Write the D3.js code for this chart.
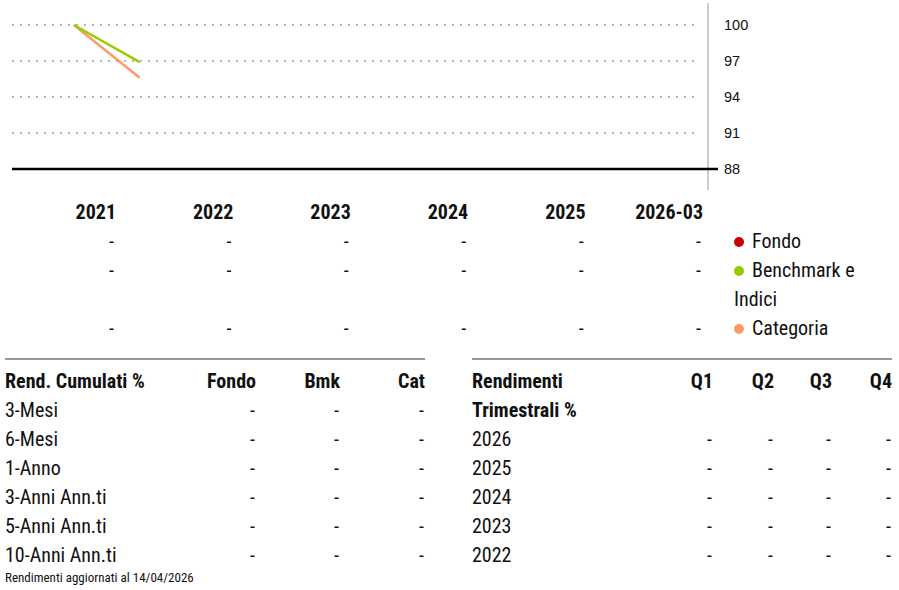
<!DOCTYPE html>
<html>
<head>
<meta charset="utf-8">
<script src="https://cdn.jsdelivr.net/npm/d3@7"></script>
<style>
  body { margin: 0; background: #fff; }
  svg text { font-family: "Roboto Condensed", "Liberation Sans Narrow", "DejaVu Sans Condensed", sans-serif; fill: #111; }
  .ax text { font-family: "Liberation Sans", Arial, sans-serif; font-size: 14.5px; }
</style>
</head>
<body>
<svg id="chart" width="899" height="590"></svg>
<script>
// chart data
const yTicks = [100, 97, 94, 91, 88];
const benchmark = [{date: "2021-07-15", v: 100}, {date: "2022-02-07", v: 96.9}];
const categoria = [{date: "2021-07-15", v: 100}, {date: "2022-02-07", v: 95.6}];

// annual returns
const years = ["2021", "2022", "2023", "2024", "2025", "2026-03"];
const fondoAnnual = ["-", "-", "-", "-", "-", "-"];
const bmkAnnual = ["-", "-", "-", "-", "-", "-"];
const catAnnual = ["-", "-", "-", "-", "-", "-"];
const legendItems = [
  {name: ["Fondo"], color: "#cc0000"},
  {name: ["Benchmark e", "Indici"], color: "#99cc00"},
  {name: ["Categoria"], color: "#ff9966"}
];

// cumulative table
const cumHead = ["Rend. Cumulati %", "Fondo", "Bmk", "Cat"];
const cumRows = ["3-Mesi", "6-Mesi", "1-Anno", "3-Anni Ann.ti", "5-Anni Ann.ti", "10-Anni Ann.ti"];
const cumVals = cumRows.map(() => ["-", "-", "-"]);

// quarterly table
const qHead = ["Q1", "Q2", "Q3", "Q4"];
const qRows = ["2026", "2025", "2024", "2023", "2022"];
const qVals = qRows.map(() => ["-", "-", "-", "-"]);
const footnote = "Rendimenti aggiornati al 14/04/2026";

const svg = d3.select("#chart");
const parse = d3.timeParse("%Y-%m-%d");
const FS = 20;

const x = d3.scaleTime()
  .domain([new Date(2021, 0, 1), new Date(2027, 0, 1)])
  .range([12, 708]);
const y = d3.scaleLinear().domain([88, 100]).range([169, 25]);

// grid
svg.append("g").selectAll("line")
  .data(yTicks.filter(d => d !== 88))
  .join("line")
  .attr("x1", 12).attr("x2", 700)
  .attr("y1", d => y(d)).attr("y2", d => y(d))
  .attr("stroke", "#b5b5b5").attr("stroke-width", 2)
  .attr("stroke-dasharray", "2,6");

// right border
svg.append("line")
  .attr("x1", 708).attr("x2", 708).attr("y1", 3).attr("y2", 190)
  .attr("stroke", "#cccccc").attr("stroke-width", 2);

// baseline
svg.append("line")
  .attr("x1", 12).attr("x2", 718).attr("y1", y(88)).attr("y2", y(88))
  .attr("stroke", "#000").attr("stroke-width", 2.5);

// y axis labels
const ax = svg.append("g").attr("class", "ax")
  .attr("transform", "translate(708,0)")
  .call(d3.axisRight(y).tickValues(yTicks).tickSize(0).tickPadding(16));
ax.select(".domain").remove();
ax.selectAll("text").attr("fill", "#111");

// lines
const line = d3.line().x(d => x(parse(d.date))).y(d => y(d.v));
svg.append("path").datum(categoria).attr("d", line)
  .attr("fill", "none").attr("stroke", "#ff9966").attr("stroke-width", 2.5);
svg.append("path").datum(benchmark).attr("d", line)
  .attr("fill", "none").attr("stroke", "#99cc00").attr("stroke-width", 2.5);

// annual table under chart
const colX = d3.scalePoint().domain(years).range([116, 703]);
svg.append("g").selectAll("text")
  .data(years).join("text")
  .attr("x", d => colX(d)).attr("y", 219)
  .attr("text-anchor", "end")
  .attr("font-size", FS).attr("font-weight", "bold")
  .text(d => d);

const rowsY = [248, 277, 335];
[fondoAnnual, bmkAnnual, catAnnual].forEach((vals, r) => {
  svg.append("g").selectAll("text")
    .data(vals).join("text")
    .attr("x", (d, i) => colX(years[i]) - 2).attr("y", rowsY[r])
    .attr("text-anchor", "end").attr("font-size", FS)
    .text(d => d);
});

// legend
legendItems.forEach((it, i) => {
  const g = svg.append("g");
  g.append("circle").attr("cx", 739).attr("cy", rowsY[i] - 6).attr("r", 5).attr("fill", it.color);
  it.name.forEach((t, j) => {
    g.append("text")
      .attr("x", j === 0 ? 752 : 734).attr("y", rowsY[i] + j * 29)
      .attr("font-size", FS).text(t);
  });
});

// cumulative table
const rowY = d3.scaleLinear().domain([0, 1]).range([388, 417]);
svg.append("line").attr("x1", 5).attr("x2", 425).attr("y1", 359).attr("y2", 359)
  .attr("stroke", "#333").attr("stroke-width", 1.2);
const cumCol = [5, 256, 340, 425];
svg.append("g").selectAll("text").data(cumHead).join("text")
  .attr("x", (d, i) => cumCol[i]).attr("y", rowY(0))
  .attr("text-anchor", (d, i) => i === 0 ? "start" : "end")
  .attr("font-size", FS).attr("font-weight", "bold").text(d => d);
cumRows.forEach((r, i) => {
  svg.append("text").attr("x", 5).attr("y", rowY(i + 1)).attr("font-size", FS).text(r);
  svg.append("g").selectAll("text").data(cumVals[i]).join("text")
    .attr("x", (d, j) => cumCol[j + 1] - 1).attr("y", rowY(i + 1))
    .attr("text-anchor", "end").attr("font-size", FS).text(d => d);
});
svg.append("text").attr("x", 5).attr("y", 582).attr("font-size", 13).attr("fill", "#333").text(footnote);

// quarterly table
svg.append("line").attr("x1", 472).attr("x2", 892).attr("y1", 359).attr("y2", 359)
  .attr("stroke", "#333").attr("stroke-width", 1.2);
const qCol = [713, 774, 832, 892];
svg.append("text").attr("x", 472).attr("y", rowY(0)).attr("font-size", FS).attr("font-weight", "bold").text("Rendimenti");
svg.append("text").attr("x", 472).attr("y", rowY(1)).attr("font-size", FS).attr("font-weight", "bold").text("Trimestrali %");
svg.append("g").selectAll("text").data(qHead).join("text")
  .attr("x", (d, i) => qCol[i]).attr("y", rowY(0))
  .attr("text-anchor", "end").attr("font-size", FS).attr("font-weight", "bold").text(d => d);
qRows.forEach((r, i) => {
  svg.append("text").attr("x", 472).attr("y", rowY(i + 2)).attr("font-size", FS).text(r);
  svg.append("g").selectAll("text").data(qVals[i]).join("text")
    .attr("x", (d, j) => qCol[j] - 1).attr("y", rowY(i + 2))
    .attr("text-anchor", "end").attr("font-size", FS).text(d => d);
});
</script>
</body>
</html>
